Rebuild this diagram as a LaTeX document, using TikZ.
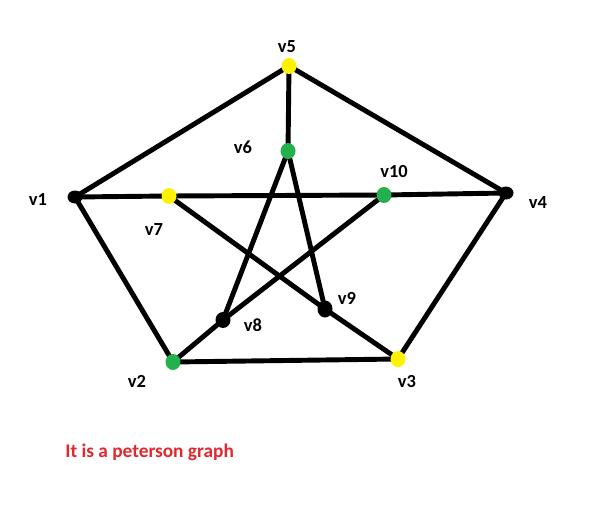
\documentclass[tikz,border=0pt]{standalone}
\usepackage{fontspec}
\setmainfont{Carlito}
\usetikzlibrary{
  positioning,
  backgrounds,
  shapes.geometric,
}
\definecolor{dotBlack}{HTML}{000000}
\definecolor{dotYellow}{HTML}{FFF200}
\definecolor{dotGreen}{HTML}{22B14C}
\definecolor{noteRed}{HTML}{E0282E}
\tikzset{
  vtx/.style={
    ellipse, inner sep=0pt, minimum width=0.3cm, minimum height=0.32cm,
  },
  blackvtx/.style={vtx, fill=dotBlack, minimum width=0.3cm, minimum height=0.26cm},
  yellowvtx/.style={vtx, fill=dotYellow},
  greenvtx/.style={vtx, fill=dotGreen},
  vlabel/.style={font=\fontsize{10.5}{12}\selectfont\bfseries, text=black},
  edge/.style={line width=2.8pt, black},
}

\begin{document}
\begin{tikzpicture}[x=0.02cm, y=-0.02cm]

  \useasboundingbox (0,0) rectangle (590,513);

  % Vertices
  \node[blackvtx]  (v1)  at (75, 197) {};
  \node[greenvtx]  (v2)  at (173, 362) {};
  \node[yellowvtx] (v3)  at (398, 359) {};
  \node[blackvtx]  (v4)  at (506, 193) {};
  \node[yellowvtx] (v5)  at (289, 66) {};
  \node[greenvtx]  (v6)  at (288, 151) {};
  \node[yellowvtx] (v7)  at (169, 196) {};
  \node[blackvtx, minimum width=0.3cm, minimum height=0.32cm] (v8)  at (223, 320) {};
  \node[blackvtx, minimum width=0.3cm, minimum height=0.34cm] (v9)  at (325, 309) {};
  \node[greenvtx]  (v10) at (384, 195) {};

  % Edges
  \begin{scope}[on background layer]
    \draw[edge] (v1.center) -- (v5.center) -- (v4.center) -- (v3.center) -- (v2.center) -- (v1.center);
    \draw[edge] (v5.center) -- (v6.center);
    \draw[edge] (v1.center) -- (v7.center);
    \draw[edge] (v7.center) -- (v10.center);
    \draw[edge] (v10.center) -- (v4.center);
    \draw[edge] (v6.center) -- (v8.center);
    \draw[edge] (v6.center) -- (v9.center);
    \draw[edge] (v7.center) -- (v9.center);
    \draw[edge] (v9.center) -- (v3.center);
    \draw[edge] (v10.center) -- (v8.center);
    \draw[edge] (v8.center) -- (v2.center);
  \end{scope}

  % Vertex labels
  \node[vlabel] (l1)  at (38, 200) {v1};
  \node[vlabel] (l2)  at (137, 381) {v2};
  \node[vlabel] (l3)  at (407, 382) {v3};
  \node[vlabel] (l4)  at (538, 203) {v4};
  \node[vlabel] (l5)  at (287, 47) {v5};
  \node[vlabel] (l6)  at (243, 147) {v6};
  \node[vlabel] (l7)  at (154, 230) {v7};
  \node[vlabel] (l8)  at (253, 325) {v8};
  \node[vlabel] (l9)  at (347, 298) {v9};
  \node[vlabel] (l10) at (394, 172) {v10};

  % Note
  \node[font=\fontsize{11}{13}\selectfont\bfseries, text=noteRed, anchor=west, inner sep=0pt] (note) at (65, 452) {It is a peterson graph};

\end{tikzpicture}
\end{document}
